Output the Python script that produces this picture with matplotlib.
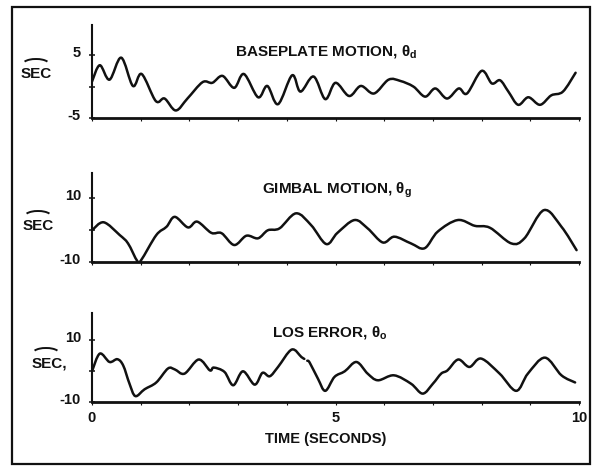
import numpy as np
import matplotlib
matplotlib.use("Agg")
import matplotlib.pyplot as plt
from matplotlib.patches import Arc, Rectangle, PathPatch
from matplotlib.path import Path
from matplotlib.transforms import ScaledTranslation

# --- data (time in seconds, angle in arc-seconds) ---
t_base = [0, 0.16, 0.36, 0.6, 0.84, 1.02, 1.31, 1.49, 1.72, 1.96, 2.27, 2.47,
          2.68, 2.92, 3.12, 3.41, 3.6, 3.82, 4.11, 4.28, 4.55, 4.79, 5.0, 5.28,
          5.52, 5.79, 6.09, 6.33, 6.6, 6.84, 7.05, 7.29, 7.53, 7.70, 8.0, 8.21,
          8.38, 8.55, 8.75, 8.96, 9.2, 9.43, 9.67, 9.93]
v_base = [0.8, 3.4, 1.1, 4.6, 0.1, 2.0, -2.3, -1.9, -3.8, -1.9, 0.7, 0.6,
          1.7, -0.2, 2.0, -1.7, 0.1, -2.8, 1.8, -0.8, 1.6, -2.0, 0.6, -1.5,
          0.1, -1.1, 1.1, 0.9, 0.0, -1.6, -0.3, -1.9, -0.3, -1.1, 2.5, 0.5,
          1.0, -0.8, -2.9, -1.7, -2.9, -1.4, -0.8, 2.2]

t_gimbal = [0, 0.24, 0.57, 0.74, 0.93, 1.01, 1.32, 1.53, 1.70, 1.97, 2.16,
            2.45, 2.66, 2.92, 3.17, 3.41, 3.61, 3.85, 4.19, 4.5, 4.81, 5.04,
            5.39, 5.66, 5.97, 6.21, 6.55, 6.83, 7.1, 7.51, 7.86, 8.17, 8.61,
            8.88, 9.28, 9.64, 9.95]
v_gimbal = [0, 2.5, -1.5, -4.1, -9.6, -9.3, -1.5, 1.1, 4.2, 0.9, 2.7,
            -0.8, -0.9, -4.6, -1.7, -2.5, 0, 0.6, 5.3, 1.6, -4.3, -0.8,
            3.2, 0.6, -3.8, -2.0, -4.1, -5.6, -0.4, 3.2, 1.4, 0.8, -4.1,
            -2.5, 6.3, 1.1, -6.2]

t_los = [0, 0.16, 0.36, 0.52, 0.64, 0.77, 0.89, 1.08, 1.32, 1.56, 1.70, 1.9,
         2.19, 2.42, 2.5, 2.72, 2.9, 3.1, 3.34, 3.5, 3.65, 3.82, 4.1, 4.3,
         4.36, np.nan, 4.42, 4.47, 4.64, 4.79, 4.98, 5.19, 5.43, 5.66, 5.87,
         6.2, 6.55, 6.79, 7.0, 7.17, 7.3, 7.52, 7.75, 7.99, 8.37, 8.71, 8.95,
         9.3, 9.64, 9.92]
v_los = [0, 5.7, 3.0, 3.9, 1.9, -4.0, -8.0, -5.8, -3.6, 0.9, 0.6, -0.75,
         3.8, 0.3, 1.2, -0.2, -4.5, 0, -4.3, -0.5, -1.6, 1.4, 7.0, 4.6,
         4.0, np.nan, 3.4, 2.8, -2.4, -6.3, -1.8, 0, 3.0, -0.75, -2.9,
         -1.3, -4.0, -7.2, -4.0, -0.75, 0.3, 3.8, 1.4, 4.1, -0.75, -6.3, -0.75,
         4.4, -1.3, -3.6]

titles = ["BASEPLATE MOTION, θ$_\\mathregular{d}$",
          "GIMBAL MOTION, θ$_\\mathregular{g}$",
          "LOS ERROR, θ$_\\mathregular{o}$"]
unit_labels = ["SEC", "SEC", "SEC,"]
y_ticks = [[-5, 0, 5], [-10, 0, 10], [-10, 0, 10]]
y_ticklabels = [["-5", "", "5"], ["-10", "", "10"], ["-10", "", "10"]]
y_limits = [(-5, 9.8), (-10, 17.9), (-10, 18.8)]
x_ticks = [0, 5, 10]
x_ticklabels = ["0", "5", "10"]
x_label = "TIME (SECONDS)"

W, H = 599, 467
plt.rcParams["font.family"] = ["Liberation Sans Narrow", "Liberation Sans", "DejaVu Sans"]
plt.rcParams["mathtext.fontset"] = "custom"
plt.rcParams["mathtext.rm"] = "Liberation Sans"

fig = plt.figure(figsize=(W / 100, H / 100), dpi=100)
fig.patch.set_facecolor("white")
ink = "#111111"


def fx(px):
    return px / W


def fy(py):
    return 1 - py / H


def smooth_trace(t, v):
    """Build a Catmull-Rom style Bezier path through the sampled points,
    breaking the pen wherever a NaN appears."""
    t = np.asarray(t, float)
    v = np.asarray(v, float)
    verts, codes = [], []
    ok = ~np.isnan(t)
    idx = np.flatnonzero(ok)
    runs = np.split(idx, np.flatnonzero(np.diff(idx) > 1) + 1)
    for run in runs:
        P = np.column_stack([t[run], v[run]])
        n = len(P)
        verts.append(P[0]); codes.append(Path.MOVETO)
        for k in range(n - 1):
            p0 = P[k - 1] if k > 0 else P[k]
            p1, p2 = P[k], P[k + 1]
            p3 = P[k + 2] if k + 2 < n else P[k + 1]
            verts += [p1 + (p2 - p0) / 6, p2 - (p3 - p1) / 6, p2]
            codes += [Path.CURVE4] * 3
    return Path(verts, codes)


# outer frame
fig.add_artist(Rectangle((fx(12), fy(464)), fx(590) - fx(12), fy(7) - fy(464),
                         transform=fig.transFigure, fill=False, lw=1.6,
                         edgecolor=ink))

# axes boxes in pixel units: (top, bottom)
boxes = [(25, 118), (173, 262.3), (313, 402.3)]
left_px, right_px = 92, 579
series = [(t_base, v_base), (t_gimbal, v_gimbal), (t_los, v_los)]
title_pos = [(326, 52), (337, 190), (330, 333)]
sec_pos = [(36, 74), (38, 226), (49, 363)]

for i, ((top, bot), (t, v)) in enumerate(zip(boxes, series)):
    ax = fig.add_axes([fx(left_px), fy(bot), fx(right_px) - fx(left_px),
                       fy(top) - fy(bot)])
    ax.add_patch(PathPatch(smooth_trace(t, v), fill=False, edgecolor=ink,
                           lw=1.8, joinstyle="round", capstyle="round"))
    ax.set_xlim(0, 10)
    ax.set_ylim(*y_limits[i])
    for s in ("top", "right"):
        ax.spines[s].set_visible(False)
    ax.spines["left"].set_linewidth(1.5)
    ax.spines["bottom"].set_linewidth(2.0)
    ax.spines["left"].set_color(ink)
    ax.spines["bottom"].set_color(ink)
    ax.set_yticks(y_ticks[i])
    ax.set_yticklabels(y_ticklabels[i], fontsize=10.5, fontweight="bold",
                       family=["Liberation Sans", "DejaVu Sans"])
    ax.tick_params(axis="y", direction="inout", length=4, width=1.1, pad=6,
                   colors=ink)
    off = ScaledTranslation(0, 4 / 100, fig.dpi_scale_trans)
    for lab in ax.get_yticklabels():
        lab.set_transform(lab.get_transform() + off)
    ax.set_xticks(np.arange(0, 11, 1), minor=True)
    ax.tick_params(axis="x", which="minor", direction="out", length=2,
                   width=0.8, colors=ink)
    if i == 2:
        ax.set_xticks(x_ticks)
        ax.set_xticklabels(x_ticklabels, fontsize=10.5, fontweight="bold",
                           family=["Liberation Sans", "DejaVu Sans"])
        ax.tick_params(axis="x", which="major", direction="out", length=2,
                       width=0.8, pad=4, colors=ink)
    else:
        ax.set_xticks([])
    ax.set_facecolor("none")

    tx, ty = title_pos[i]
    fig.text(fx(tx), fy(ty), titles[i], ha="center", va="center",
             fontsize=11, fontweight="bold", color=ink)

    sx, sy = sec_pos[i]
    fig.text(fx(sx), fy(sy), unit_labels[i], ha="center", va="center",
             fontsize=11, fontweight="bold", color=ink,
             family=["Liberation Sans", "DejaVu Sans"])
    arc_x = sx - (3 if unit_labels[i].endswith(",") else 0)
    fig.add_artist(Arc((fx(arc_x), fy(sy - 10)), fx(26), 10 / H, theta1=15,
                       theta2=165, transform=fig.transFigure, lw=1.4,
                       color=ink))

fig.text(fx(326), fy(439), x_label, ha="center", va="center", fontsize=10.5,
         fontweight="bold", color=ink)

fig.savefig("out.png", dpi=100, facecolor="white")
